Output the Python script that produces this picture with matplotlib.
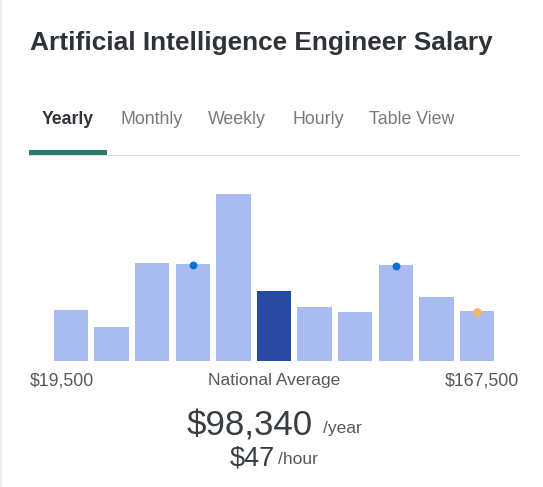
import matplotlib
matplotlib.use('Agg')
import matplotlib.pyplot as plt
from matplotlib.patches import Rectangle

plt.rcParams['font.family'] = ['Liberation Sans', 'DejaVu Sans']

W, H = 543, 487

title = "Artificial Intelligence Engineer Salary"
tabs = ["Yearly", "Monthly", "Weekly", "Hourly", "Table View"]
tab_x = [42, 120, 208, 292, 369]

# bar heights
heights = [51, 34, 98, 97, 167, 70, 54, 49, 96, 64, 50]
avg_bar = 5
blue_dots = [3, 8]
orange_dots = [10]

low_label = "$19,500"
mid_label = "National Average"
high_label = "$167,500"
salary = "$98,340"
salary_unit = "/year"
hourly = "$47"
hourly_unit = "/hour"

fig = plt.figure(figsize=(W / 100, H / 100), dpi=100, facecolor='white')

# page layer in pixel coordinates
bg = fig.add_axes([0, 0, 1, 1])
bg.set_xlim(0, W)
bg.set_ylim(H, 0)
bg.axis('off')

bg.add_patch(Rectangle((0, 0), 1.5, H, fc='#eeeeee', ec='none'))

bg.text(29.5, 43, title, fontsize=18.9, fontweight='bold', color='#2d3339', va='center', ha='left')

for i, (t, x) in enumerate(zip(tabs, tab_x)):
    if i == 0:
        bg.text(x, 119, t, fontsize=12.7, fontweight='bold', color='#2d3339', va='center')
    else:
        bg.text(x, 119, t, fontsize=12.8, color='#767a7f', va='center')

bg.add_patch(Rectangle((29, 154.5), 491, 1, fc='#dcdee0', ec='none'))
bg.add_patch(Rectangle((29, 150), 78, 4.5, fc='#2b7a68', ec='none'))

bg.text(29.5, 381, low_label, fontsize=12.7, color='#55595d', va='center', ha='left')
bg.text(274, 381, mid_label, fontsize=12.5, color='#55595d', va='center', ha='center')
bg.text(519.5, 381, high_label, fontsize=12.8, color='#55595d', va='center', ha='right')

bg.text(186.5, 426, salary, fontsize=25.1, color='#383d42', va='center', ha='left')
bg.text(323, 428, salary_unit, fontsize=12.5, color='#55595d', va='center', ha='left')
bg.text(229.5, 459, hourly, fontsize=19.5, color='#383d42', va='center', ha='left')
bg.text(278, 460, hourly_unit, fontsize=12.6, color='#55595d', va='center', ha='left')

# bars, y axis runs in pixels above the baseline
ax = fig.add_axes([0, (H - 361) / H, 1, 361 / H])
ax.set_xlim(-71 / 40.6, (W - 71) / 40.6)
ax.set_ylim(0, 361)
ax.axis('off')
ax.patch.set_alpha(0)

xs = list(range(len(heights)))
colors = ['#284aa3' if i == avg_bar else '#a9bcf2' for i in xs]
ax.bar(xs, heights, width=0.85, color=colors, linewidth=0)

dot_ax = ax.scatter(blue_dots, [heights[i] - 1 for i in blue_dots], s=32, color='#0a6edc', linewidth=0, zorder=3)
ax.scatter(orange_dots, [heights[i] - 1 for i in orange_dots], s=38, color='#fbb26a', linewidth=0, zorder=3)

fig.savefig('out.png', dpi=100)
